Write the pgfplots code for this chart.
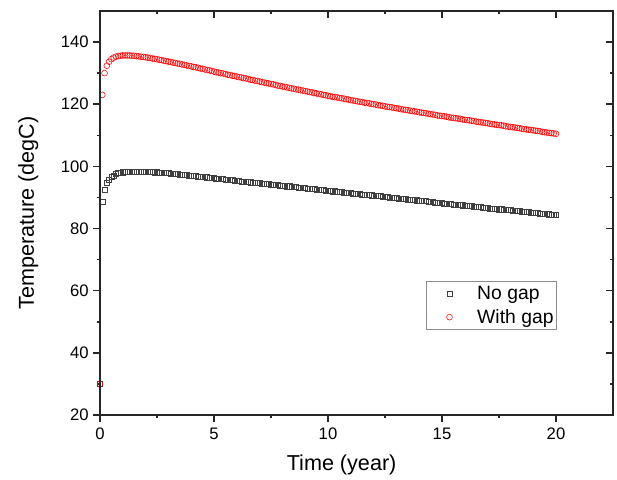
\documentclass[border=0pt]{standalone}
\usepackage{fontspec}
\setmainfont{Liberation Sans}
\usepackage{pgfplots}
\usepackage{pgfplotstable}
\pgfplotsset{compat=1.18}

% t (year), no gap, with gap
\pgfplotstableread{
t nogap withgap
0.0 30.0 30.0
0.1 88.5 123.0
0.2 92.6 130.0
0.3 94.6 132.4
0.4 95.8 133.7
0.5 96.6 134.5
0.6 97.1 135.0
0.7 97.5 135.3
0.8 97.8 135.5
0.9 98.0 135.6
1.0 98.1 135.7
1.1 98.2 135.7
1.2 98.3 135.7
1.3 98.3 135.7
1.4 98.4 135.6
1.5 98.4 135.6
1.6 98.4 135.5
1.7 98.4 135.4
1.8 98.3 135.3
1.9 98.3 135.2
2.0 98.3 135.1
2.1 98.3 135.0
2.2 98.2 134.9
2.3 98.2 134.7
2.4 98.1 134.6
2.5 98.1 134.5
2.6 98.0 134.3
2.7 98.0 134.2
2.8 97.9 134.0
2.9 97.8 133.9
3.0 97.8 133.7
3.1 97.7 133.6
3.2 97.6 133.4
3.3 97.6 133.3
3.4 97.5 133.1
3.5 97.4 133.0
3.6 97.3 132.8
3.7 97.3 132.7
3.8 97.2 132.5
3.9 97.1 132.3
4.0 97.0 132.2
4.1 97.0 132.0
4.2 96.9 131.9
4.3 96.8 131.7
4.4 96.7 131.5
4.5 96.6 131.4
4.6 96.6 131.2
4.7 96.5 131.0
4.8 96.4 130.9
4.9 96.3 130.7
5.0 96.2 130.5
5.1 96.1 130.3
5.2 96.0 130.2
5.3 96.0 130.0
5.4 95.9 129.9
5.5 95.8 129.7
5.6 95.7 129.5
5.7 95.6 129.4
5.8 95.6 129.2
5.9 95.5 129.1
6.0 95.4 128.9
6.1 95.3 128.7
6.2 95.2 128.6
6.3 95.2 128.4
6.4 95.1 128.3
6.5 95.0 128.1
6.6 94.9 127.9
6.7 94.8 127.8
6.8 94.8 127.6
6.9 94.7 127.5
7.0 94.6 127.3
7.1 94.5 127.1
7.2 94.4 127.0
7.3 94.4 126.8
7.4 94.3 126.7
7.5 94.2 126.5
7.6 94.1 126.4
7.7 94.0 126.2
7.8 94.0 126.0
7.9 93.9 125.9
8.0 93.8 125.7
8.1 93.7 125.6
8.2 93.6 125.4
8.3 93.6 125.3
8.4 93.5 125.1
8.5 93.4 125.0
8.6 93.3 124.8
8.7 93.2 124.7
8.8 93.2 124.5
8.9 93.1 124.4
9.0 93.0 124.2
9.1 92.9 124.1
9.2 92.8 123.9
9.3 92.8 123.8
9.4 92.7 123.6
9.5 92.6 123.5
9.6 92.5 123.3
9.7 92.4 123.2
9.8 92.4 123.0
9.9 92.3 122.9
10.0 92.2 122.7
10.1 92.1 122.6
10.2 92.0 122.4
10.3 92.0 122.3
10.4 91.9 122.2
10.5 91.8 122.0
10.6 91.7 121.9
10.7 91.6 121.8
10.8 91.6 121.6
10.9 91.5 121.5
11.0 91.4 121.3
11.1 91.3 121.2
11.2 91.2 121.1
11.3 91.2 120.9
11.4 91.1 120.8
11.5 91.0 120.7
11.6 90.9 120.5
11.7 90.8 120.4
11.8 90.8 120.3
11.9 90.7 120.1
12.0 90.6 120.0
12.1 90.5 119.9
12.2 90.4 119.7
12.3 90.4 119.6
12.4 90.3 119.5
12.5 90.2 119.3
12.6 90.1 119.2
12.7 90.0 119.1
12.8 90.0 119.0
12.9 89.9 118.8
13.0 89.8 118.7
13.1 89.7 118.6
13.2 89.6 118.4
13.3 89.6 118.3
13.4 89.5 118.2
13.5 89.4 118.1
13.6 89.3 117.9
13.7 89.2 117.8
13.8 89.2 117.7
13.9 89.1 117.6
14.0 89.0 117.4
14.1 88.9 117.3
14.2 88.8 117.2
14.3 88.8 117.1
14.4 88.7 116.9
14.5 88.6 116.8
14.6 88.5 116.7
14.7 88.4 116.6
14.8 88.4 116.4
14.9 88.3 116.3
15.0 88.2 116.2
15.1 88.1 116.1
15.2 88.1 116.0
15.3 88.0 115.8
15.4 87.9 115.7
15.5 87.8 115.6
15.6 87.7 115.5
15.7 87.7 115.4
15.8 87.6 115.3
15.9 87.5 115.1
16.0 87.4 115.0
16.1 87.3 114.9
16.2 87.3 114.8
16.3 87.2 114.7
16.4 87.1 114.6
16.5 87.0 114.4
16.6 86.9 114.3
16.7 86.9 114.2
16.8 86.8 114.1
16.9 86.7 114.0
17.0 86.6 113.9
17.1 86.5 113.7
17.2 86.5 113.6
17.3 86.4 113.5
17.4 86.3 113.4
17.5 86.2 113.3
17.6 86.2 113.2
17.7 86.1 113.1
17.8 86.0 112.9
17.9 85.9 112.8
18.0 85.9 112.7
18.1 85.8 112.6
18.2 85.7 112.5
18.3 85.6 112.4
18.4 85.6 112.3
18.5 85.5 112.1
18.6 85.4 112.0
18.7 85.3 111.9
18.8 85.3 111.8
18.9 85.2 111.7
19.0 85.1 111.6
19.1 85.0 111.5
19.2 85.0 111.4
19.3 84.9 111.3
19.4 84.8 111.1
19.5 84.7 111.0
19.6 84.7 110.9
19.7 84.6 110.8
19.8 84.5 110.7
19.9 84.4 110.6
20.0 84.4 110.5
}\temps

\begin{document}
\begin{tikzpicture}
\pgfplotsset{
  frame/.style={
    width=384.75pt, height=303pt, scale only axis,
    xmin=0, xmax=22.5, ymin=20, ymax=150,
    xtick={0,5,10,15,20}, ytick={20,40,...,140},
    minor x tick num=1, minor y tick num=1,
    axis line style={line width=1.1pt, black!85},
    major tick length=5pt, minor tick length=2.4pt,
    every tick/.style={line width=1.1pt, black!85},
  },
}
\begin{axis}[frame,
  name=ax,
  xtick pos=left, ytick pos=left, tick align=outside,
  /pgf/number format/assume math mode=true,
  ticklabel style={font=\fontsize{12.5}{14}\selectfont},
  xticklabel style={yshift=-1pt},
  xlabel={Time (year)}, ylabel={Temperature (degC)},
  label style={font=\fontsize{16.2}{19}\selectfont},
  xlabel style={at={(axis description cs:0.471,-0.124)}, anchor=center},
  ylabel style={at={(axis description cs:-0.140,0.5)}, anchor=center},
  legend image code/.code={
    \path (0pt,0pt) (35pt,0pt);
    \draw[#1] plot coordinates {(16.5pt,0pt)};
  },
  legend style={at={(axis cs:14.3,63.1)}, anchor=north west,
    draw=black!45, line width=0.6pt, font=\fontsize{14.5}{17}\selectfont,
    row sep=1.8pt, inner xsep=0.5pt, inner ysep=1.5pt},
  legend cell align=left,
]
\addplot[only marks, mark=square, mark size=1.9pt, black!75,
  mark options={line width=0.4pt}] table[x=t, y=nogap] {\temps};
\addlegendentry{No gap}
\addplot[only marks, mark=o, mark size=2.2pt, red,
  mark options={line width=0.4pt}] table[x=t, y=withgap] {\temps};
\addlegendentry{With gap}
\end{axis}
\begin{axis}[frame,
  xtick pos=right, ytick pos=right, tick align=inside,
  xticklabels={}, yticklabels={},
]
\end{axis}
\pgfresetboundingbox
\path[use as bounding box] ([xshift=-75pt,yshift=-48pt]ax.south west)
  rectangle ([xshift=3pt,yshift=8.25pt]ax.north east);
\end{tikzpicture}
\end{document}
